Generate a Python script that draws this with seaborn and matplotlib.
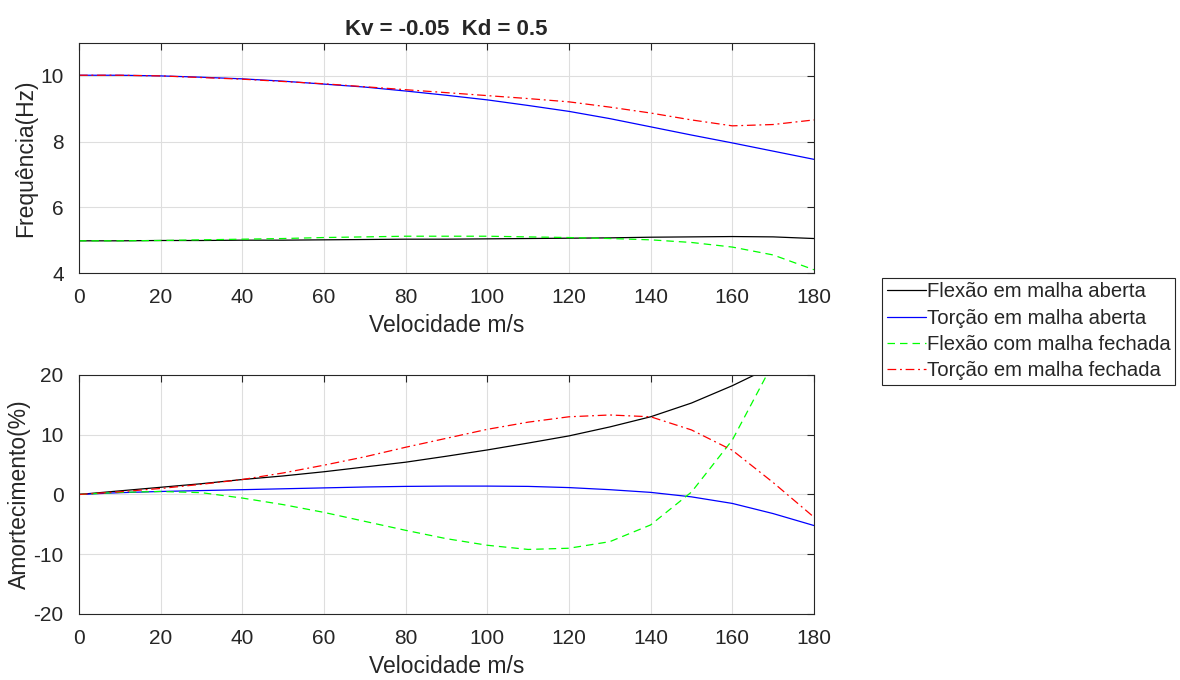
import numpy as np
import pandas as pd
import matplotlib
matplotlib.use("Agg")
import matplotlib.pyplot as plt
import seaborn as sns

# ---- data ----
velocidade = [0, 10, 20, 30, 40, 50, 60, 70, 80, 90, 100, 110, 120, 130, 140, 150, 160, 170, 180]

freq_flexao_aberta = [4.98, 4.98, 4.99, 4.99, 5.00, 5.00, 5.01, 5.02, 5.03, 5.03, 5.04, 5.05, 5.06, 5.07, 5.09, 5.10, 5.11, 5.10, 5.05]
freq_torcao_aberta = [10.02, 10.02, 10.00, 9.96, 9.91, 9.84, 9.75, 9.66, 9.54, 9.41, 9.27, 9.10, 8.92, 8.70, 8.45, 8.20, 7.96, 7.71, 7.46]
freq_flexao_fechada = [4.98, 4.98, 4.99, 5.01, 5.03, 5.05, 5.08, 5.10, 5.12, 5.12, 5.12, 5.10, 5.08, 5.05, 5.01, 4.93, 4.79, 4.55, 4.10]
freq_torcao_fechada = [10.02, 10.02, 10.00, 9.95, 9.90, 9.83, 9.76, 9.67, 9.58, 9.49, 9.40, 9.31, 9.21, 9.05, 8.87, 8.66, 8.48, 8.52, 8.66]

amort_flexao_aberta = [0, 0.6, 1.2, 1.8, 2.5, 3.1, 3.8, 4.6, 5.4, 6.4, 7.45, 8.6, 9.8, 11.3, 13.0, 15.3, 18.2, 21.5, 25.5]
amort_torcao_aberta = [0, 0.3, 0.5, 0.65, 0.8, 0.95, 1.1, 1.25, 1.35, 1.4, 1.4, 1.35, 1.15, 0.8, 0.35, -0.4, -1.5, -3.2, -5.2]
amort_flexao_fechada = [0, 0.35, 0.5, 0.3, -0.6, -1.7, -3.0, -4.5, -6.0, -7.4, -8.5, -9.2, -9.0, -7.9, -5.1, 0.4, 9.1, 22.0, 40.0]
amort_torcao_fechada = [0, 0.45, 1.0, 1.7, 2.5, 3.6, 4.9, 6.3, 7.9, 9.4, 10.9, 12.1, 13.0, 13.3, 13.0, 10.8, 7.4, 2.0, -3.8]

series_names = ["Flexão em malha aberta", "Torção em malha aberta",
                "Flexão com malha fechada", "Torção em malha fechada"]
x_ticks = [0, 20, 40, 60, 80, 100, 120, 140, 160, 180]
freq_ticks = [4, 6, 8, 10]
amort_ticks = [-20, -10, 0, 10, 20]
title_text = "Kv = -0.05  Kd = 0.5"

# ---- style ----
sns.set_style("white")
plt.rcParams['font.family'] = ['Liberation Sans', 'DejaVu Sans']
plt.rcParams['axes.unicode_minus'] = False
plt.rcParams['axes.edgecolor'] = '#262626'
plt.rcParams['xtick.color'] = '#262626'
plt.rcParams['ytick.color'] = '#262626'

colors = ['#000000', '#0000ff', '#00ff00', '#ff0000']
styles = ['-', '-', (0, (6, 4)), (0, (7, 3, 1.5, 3))]

fig = plt.figure(figsize=(11.8, 6.8), dpi=100)
ax1 = fig.add_axes([0.0669, 0.5985, 0.6229, 0.3382])
ax2 = fig.add_axes([0.0669, 0.0971, 0.6229, 0.3515])

freq_all = [freq_flexao_aberta, freq_torcao_aberta, freq_flexao_fechada, freq_torcao_fechada]
amort_all = [amort_flexao_aberta, amort_torcao_aberta, amort_flexao_fechada, amort_torcao_fechada]

for name, yv, c, ls in zip(series_names, freq_all, colors, styles):
    df = pd.DataFrame({"v": velocidade, "y": yv})
    sns.lineplot(data=df, x="v", y="y", ax=ax1, color=c, linewidth=0.9,
                 linestyle=ls, label=name, legend=False)
for name, yv, c, ls in zip(series_names, amort_all, colors, styles):
    df = pd.DataFrame({"v": velocidade, "y": yv})
    sns.lineplot(data=df, x="v", y="y", ax=ax2, color=c, linewidth=0.9,
                 linestyle=ls, label=name, legend=False)

for ax, yt, yl, ylabel in [(ax1, freq_ticks, (4, 11), "Frequência(Hz)"),
                           (ax2, amort_ticks, (-20, 20), "Amortecimento(%)")]:
    ax.set_xlim(0, 180)
    ax.set_ylim(*yl)
    ax.set_xticks(x_ticks)
    ax.set_yticks(yt)
    ax.grid(True, color='#dedede', linewidth=0.8)
    ax.set_axisbelow(True)
    ax.tick_params(direction='in', length=5, width=0.8, top=True, right=True,
                   labelsize=15, pad=11)
    ax.set_xlabel("Velocidade m/s", fontsize=16.5, color='#262626', labelpad=5)
    ax.set_ylabel(ylabel, fontsize=16.5, color='#262626', labelpad=2)
    for s in ax.spines.values():
        s.set_linewidth(0.8)
        s.set_color('#262626')

ax1.set_title(title_text, fontsize=16, fontweight='bold', pad=6)

h, l = ax1.get_legend_handles_labels()
leg = fig.legend(h, l, loc='upper left', bbox_to_anchor=(0.7475, 0.5912),
                 fontsize=14.6, frameon=True, fancybox=False, framealpha=1,
                 edgecolor='#262626', handlelength=1.95, handletextpad=0.05,
                 borderpad=0.22, labelspacing=0.36, borderaxespad=0)
leg.get_frame().set_linewidth(0.8)

fig.savefig("out.png", dpi=100)
